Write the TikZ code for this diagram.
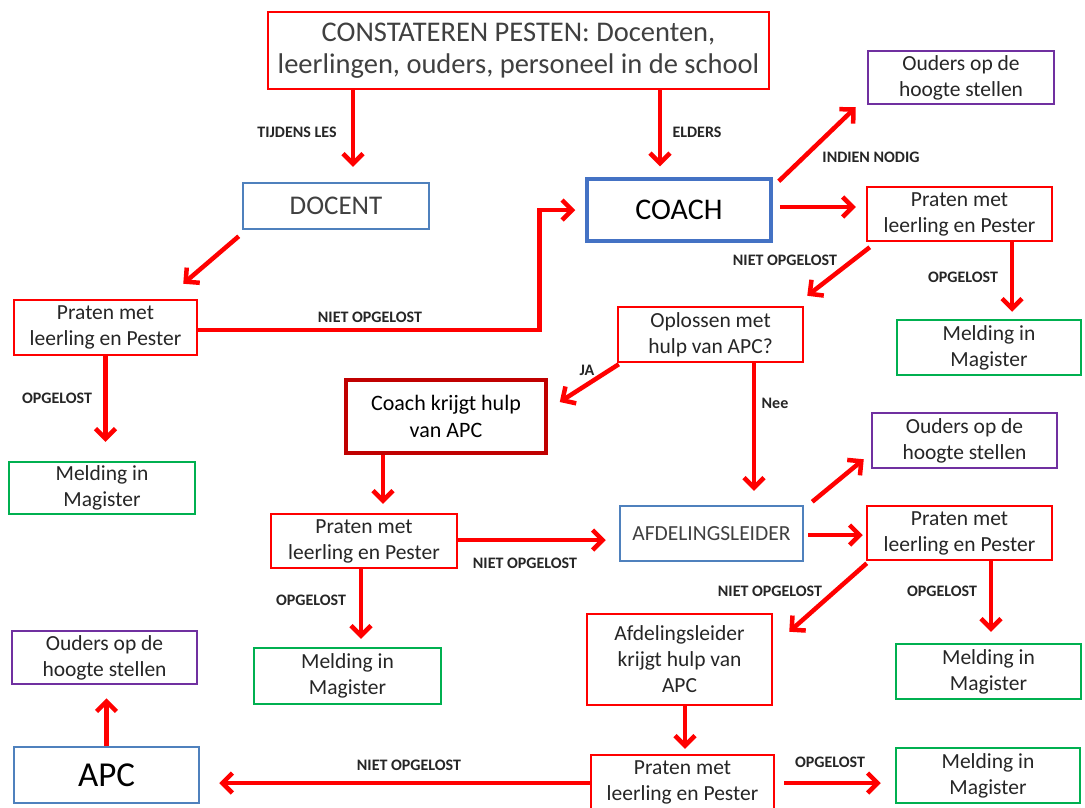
\documentclass[tikz,border=0pt]{standalone}
\usepackage{fontspec}
\setmainfont{Carlito}
\usetikzlibrary{arrows.meta,calc}
\definecolor{cred}{HTML}{FF0000}
\definecolor{cdred}{HTML}{C00000}
\definecolor{cgreen}{HTML}{00B050}
\definecolor{cpurple}{HTML}{7030A0}
\definecolor{cblue}{HTML}{4F81BD}
\definecolor{cblued}{HTML}{4472C4}
\definecolor{txt}{HTML}{262626}
\definecolor{txtg}{HTML}{404040}
\begin{document}
\begin{tikzpicture}[x=1pt,y=-1pt,
  box/.style={draw, line width=2.5pt, inner sep=0pt, align=center, text=txt,
    font=\fontsize{21.5}{26}\selectfont},
  rbox/.style={box, draw=cred},
  gbox/.style={box, draw=cgreen},
  pbox/.style={box, draw=cpurple},
  bbox/.style={box, draw=cblue},
  arr/.style={draw=cred, line width=4.5pt, -{Straight Barb[length=10pt,width=20pt]}},
  lab/.style={font=\bfseries\fontsize{16}{18}\selectfont, text=txt, inner sep=0pt},
  sz/.style 2 args={minimum width=#1pt, minimum height=#2pt}]
\useasboundingbox[fill=white] (0,0) rectangle (1085,807);

% boxes
\node[rbox, sz={501}{77}, text=txtg, font=\fontsize{28.5}{32}\selectfont] (top) at (518.5,50.5)
  {CONSTATEREN PESTEN: Docenten,\\leerlingen, ouders, personeel in de school};
\node[bbox, sz={186}{46}, text=txtg, font=\fontsize{27}{30}\selectfont] (docent) at (336,206) {DOCENT};
\node[box, draw=cblued, line width=3.5pt, sz={184}{62}, text=black, font=\fontsize{30}{34}\selectfont] (coach) at (679,210) {COACH};
\node[pbox, sz={186}{53}] (oudersA) at (961,77.5) {Ouders op de\\hoogte stellen};
\node[rbox, sz={185}{54}] (pratenC) at (959.5,214) {Praten met\\leerling en Pester};
\node[gbox, sz={184}{55}] (meldC) at (989,347.5) {Melding in\\Magister};
\node[rbox, sz={185}{55}] (oplossen) at (710.5,334.5) {Oplossen met\\hulp van APC?};
\node[rbox, sz={183}{55}] (pratenL) at (105.5,327.5) {Praten met\\leerling en Pester};
\node[gbox, sz={186}{52}] (meldL) at (102,488) {Melding in\\Magister};
\node[box, draw=cdred, line width=3.5pt, sz={200}{73}, text=black, font=\fontsize{22}{27}\selectfont] (coachhulp) at (446,416.5) {Coach krijgt hulp\\van APC};
\node[pbox, sz={185}{55}] (oudersB) at (964.5,440.5) {Ouders op de\\hoogte stellen};
\node[bbox, sz={183}{55}, text=txtg] (afd) at (711.5,533.5) {AFDELINGSLEIDER};
\node[rbox, sz={185}{54}] (pratenR) at (959.5,533) {Praten met\\leerling en Pester};
\node[rbox, sz={186}{54}] (pratenM) at (364,541) {Praten met\\leerling en Pester};
\node[gbox, sz={187}{56}] (meldM) at (347.5,676) {Melding in\\Magister};
\node[rbox, sz={185}{91}] (afdhulp) at (679.5,659.5) {Afdelingsleider\\krijgt hulp van\\APC};
\node[gbox, sz={185}{55}] (meldR) at (988.5,671.5) {Melding in\\Magister};
\node[pbox, sz={185}{53}] (oudersC) at (104.5,657.5) {Ouders op de\\hoogte stellen};
\node[bbox, sz={185}{56}, text=black, font=\fontsize{35}{40}\selectfont] (apc) at (106.5,775) {APC};
\node[rbox, sz={183}{55}] (pratenB) at (682.5,782.5) {Praten met\\leerling en Pester};
\node[gbox, sz={184}{55}] (meldB) at (988,775.5) {Melding in\\Magister};

% connectors
\draw[arr, shorten >=15pt] ([xshift=17pt]docent.north |- top.south) -- ([xshift=17pt]docent.north);
\draw[arr, shorten >=11pt] ([xshift=-19pt]coach.north |- top.south) -- ([xshift=-19pt]coach.north);
\draw[arr] ([xshift=-3pt,yshift=-6pt]docent.south west) -- ([xshift=-15pt,yshift=15pt]pratenL.north east);
\draw[arr, shorten >=10pt] ([yshift=-2.5pt]pratenL.east) -| ([xshift=-46pt]coach.west) -- (coach.west);
\draw[arr, shorten >=19pt] (pratenL.south) -- (pratenL.south |- meldL.north);
\draw[arr] ([xshift=6pt,yshift=-4pt]coach.north east) -- ([xshift=-11pt,yshift=-2pt]oudersA.south west);
\draw[arr, shorten <=7pt, shorten >=10pt] ([yshift=3pt]coach.east) -- ([yshift=3pt]coach.east -| pratenC.west);
\draw[arr] ([xshift=4pt,yshift=-5pt]pratenC.south west) -- ([xshift=3pt,yshift=10pt]oplossen.north east);
\draw[arr, shorten >=7pt] ([xshift=52.5pt]pratenC.south) -- ([xshift=52.5pt]pratenC.south |- meldC.north);
\draw[arr] ([xshift=2pt,yshift=-1pt]oplossen.south west) -- ([xshift=12pt,yshift=14.5pt]coachhulp.east);
\draw[arr, shorten >=14pt] ([xshift=43.5pt]oplossen.south) -- ([xshift=43.5pt]oplossen.south |- afd.north);
\draw[arr, shorten >=9pt] ([xshift=-63pt]coachhulp.south) -- ([xshift=-63pt]coachhulp.south |- pratenM.north);
\draw[arr, shorten >=13pt] ([yshift=1pt]pratenM.east) -- ([yshift=1pt]pratenM.east -| afd.west);
\draw[arr, shorten >=8pt] ([xshift=-3pt]pratenM.south) -- ([xshift=-3pt]pratenM.south |- meldM.north);
\draw[arr] ([xshift=8pt,yshift=3pt]afd.north east) -- ([xshift=-7pt,yshift=10pt]oudersB.south west);
\draw[arr, shorten <=4pt, shorten >=3pt] ([yshift=-1.5pt]afd.east) -- ([yshift=-1.5pt]afd.east -| pratenR.west);
\draw[arr] ([xshift=1pt,yshift=-2pt]pratenR.south west) -- ([xshift=16pt,yshift=-19pt]afdhulp.north east);
\draw[arr, shorten >=11pt] ([xshift=31.5pt]pratenR.south) -- ([xshift=31.5pt]pratenR.south |- meldR.north);
\draw[arr, shorten >=5pt] ([xshift=5.5pt]afdhulp.south) -- ([xshift=5.5pt]afdhulp.south |- pratenB.north);
\draw[arr, shorten >=19pt] ([yshift=-0.5pt]pratenB.west) -- ([yshift=-0.5pt]pratenB.west -| apc.east);
\draw[arr, shorten <=9pt, shorten >=14pt] ([yshift=-0.5pt]pratenB.east) -- ([yshift=-0.5pt]pratenB.east -| meldB.west);
\draw[arr, shorten >=13pt] (apc.north) -- (apc.north |- oudersC.south);

% labels
\node[lab] (l1) at (297,132) {TIJDENS LES};
\node[lab] (l2) at (697,132) {ELDERS};
\node[lab] (l3) at (871,157) {INDIEN NODIG};
\node[lab] (l4) at (370,317) {NIET OPGELOST};
\node[lab] (l5) at (57,398) {OPGELOST};
\node[lab] (l6) at (785,260) {NIET OPGELOST};
\node[lab] (l7) at (963,277) {OPGELOST};
\node[lab] (l8) at (587,370) {JA};
\node[lab] (l9) at (775,403) {Nee};
\node[lab] (l10) at (525,563) {NIET OPGELOST};
\node[lab] (l11) at (311,600) {OPGELOST};
\node[lab] (l12) at (770,591) {NIET OPGELOST};
\node[lab] (l13) at (942,591) {OPGELOST};
\node[lab] (l14) at (409,765) {NIET OPGELOST};
\node[lab] (l15) at (830,762) {OPGELOST};
\end{tikzpicture}
\end{document}
